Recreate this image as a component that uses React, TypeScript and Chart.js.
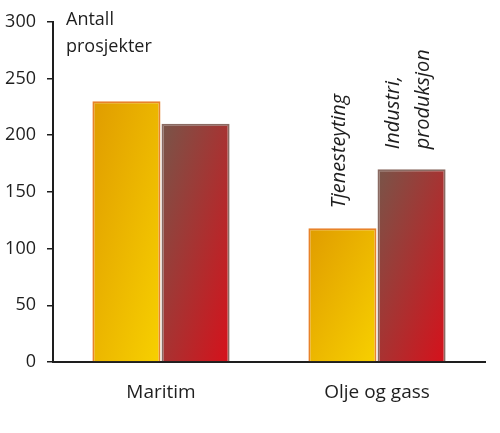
import React, { useEffect, useRef } from 'react';
import { Chart, registerables } from 'chart.js';

Chart.register(...registerables);

const categories = ['Maritim', 'Olje og gass'];
const tjenesteyting = [230, 118];
const industri = [210, 170];
const yMax = 300;
const yStep = 50;
const axisTitle = ['Antall', 'prosjekter'];
// rotated notes over the bars, per dataset / per category
const tjenesteNotes = [[], ['Tjenesteyting']];
const industriNotes = [[], ['Industri,', 'produksjon']];

const FONT = "'Open Sans', sans-serif";
const INK = '#1e1e1e';

// diagonal gradient per bar, top-left dark -> bottom-right bright
const barGradients = {
  id: 'barGradients',
  beforeDatasetsDraw(chart: any) {
    const ctx = chart.ctx;
    chart.data.datasets.forEach((ds: any, di: number) => {
      const meta = chart.getDatasetMeta(di);
      meta.data.forEach((el: any) => {
        const { x, y, base, width } = el.getProps(['x', 'y', 'base', 'width'], true);
        const left = x - width / 2;
        const top = Math.min(y, base);
        const h = Math.abs(base - y);
        const w = width;
        const k = (2 * w * h) / (w * w + h * h || 1);
        const g = ctx.createLinearGradient(left, top, left + h * k, top + w * k);
        g.addColorStop(0, ds.gradientFrom);
        g.addColorStop(1, ds.gradientTo);
        el.options = { ...el.options, backgroundColor: g };
      });
    });
  },
};

const annotations = {
  id: 'annotations',
  afterDatasetsDraw(chart: any) {
    const ctx = chart.ctx;
    const area = chart.chartArea;
    ctx.save();
    ctx.fillStyle = INK;
    ctx.font = `18px ${FONT}`;
    ctx.textAlign = 'left';
    ctx.textBaseline = 'alphabetic';
    axisTitle.forEach((line, i) => {
      ctx.fillText(line, area.left + 13, area.top + 3 + i * 27);
    });

    ctx.font = `italic 20px ${FONT}`;
    ctx.textBaseline = 'middle';
    chart.data.datasets.forEach((ds: any, di: number) => {
      const meta = chart.getDatasetMeta(di);
      meta.data.forEach((el: any, i: number) => {
        const lines: string[] = (ds.notes && ds.notes[i]) || [];
        if (!lines.length) return;
        ctx.save();
        ctx.translate(el.x - 3, el.y - 20);
        ctx.rotate(-Math.PI / 2);
        lines.forEach((line, j) => {
          ctx.fillText(line, 0, (j - (lines.length - 1) / 2) * 30);
        });
        ctx.restore();
      });
    });
    ctx.restore();
  },
};

const App: React.FC = () => {
  const chartRef = useRef<HTMLCanvasElement>(null);
  const chartInstanceRef = useRef<Chart | null>(null);

  useEffect(() => {
    if (!chartRef.current) return;
    const ctx = chartRef.current.getContext('2d');
    if (!ctx) return;

    chartInstanceRef.current = new Chart(ctx, {
      type: 'bar',
      data: {
        labels: categories,
        datasets: [
          {
            label: 'Tjenesteyting',
            data: tjenesteyting,
            backgroundColor: '#eab400',
            borderColor: '#e8822a',
            borderWidth: 2,
            gradientFrom: '#e09c00',
            gradientTo: '#f7d000',
            notes: tjenesteNotes,
          } as any,
          {
            label: 'Industri, produksjon',
            data: industri,
            backgroundColor: '#a8403a',
            borderColor: '#8a6a62',
            borderWidth: 2,
            gradientFrom: '#785549',
            gradientTo: '#d6111b',
            notes: industriNotes,
          } as any,
        ],
      },
      options: {
        animation: false,
        responsive: true,
        maintainAspectRatio: false,
        layout: { padding: { top: 20, right: 15, left: 0, bottom: 0 } },
        datasets: {
          bar: { categoryPercentage: 0.64, barPercentage: 0.985 },
        },
        scales: {
          x: {
            grid: { display: false, drawTicks: false },
            border: { display: true, color: INK, width: 2 },
            ticks: { color: INK, font: { family: FONT, size: 19 }, padding: 19 },
            afterFit: (scale: any) => {
              scale.height = 71;
            },
          },
          y: {
            min: 0,
            max: yMax,
            grid: {
              display: true,
              drawOnChartArea: false,
              drawTicks: true,
              tickLength: 6,
              color: INK,
              lineWidth: 1.5,
            },
            border: { display: true, color: INK, width: 2 },
            ticks: {
              stepSize: yStep,
              color: INK,
              padding: 11,
              font: { family: FONT, size: 18 },
            },
            afterFit: (scale: any) => {
              scale.width = 53;
            },
          },
        },
        plugins: {
          legend: { display: false },
          tooltip: { enabled: false },
        },
      },
      plugins: [barGradients, annotations],
    });

    return () => {
      if (chartInstanceRef.current) {
        chartInstanceRef.current.destroy();
        chartInstanceRef.current = null;
      }
    };
  }, []);

  return (
    <div style={{ position: 'fixed', left: 0, top: 0, width: 500, height: 433, background: '#fff' }}>
      <canvas ref={chartRef}></canvas>
    </div>
  );
};

export default App;
